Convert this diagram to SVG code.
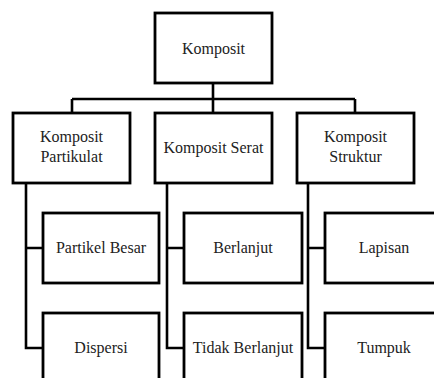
<svg xmlns="http://www.w3.org/2000/svg" width="434" height="378" viewBox="0 0 434 378">
<style>
.box{fill:#fff;stroke:#000;stroke-width:2.8}
.ln{fill:none;stroke:#000;stroke-width:2.6;stroke-linejoin:miter}
text{font-family:'Liberation Serif','Times New Roman',serif;font-size:16px;fill:#222;text-anchor:middle}
</style>
<rect width="434" height="378" fill="#fff"/>
<g id="connectors">
<path class="ln" d="M213,83 V99 M72,99 H355 M72,99 V113 M213,99 V113 M355,99 V113"/>
<path class="ln" d="M26,183 V348 H43 M26,248 H43"/>
<path class="ln" d="M167,183 V348 H184 M167,248 H184"/>
<path class="ln" d="M308,183 V348 H325 M308,248 H325"/>
</g>
<g id="komposit"><rect class="box" x="155" y="13" width="117" height="70"/><text x="213.5" y="53.5">Komposit</text></g>
<g id="partikulat"><rect class="box" x="13" y="113" width="117" height="70"/><text x="71.5" y="142">Komposit</text><text x="71.5" y="162">Partikulat</text></g>
<g id="serat"><rect class="box" x="155" y="113" width="117" height="70"/><text x="213.5" y="153">Komposit Serat</text></g>
<g id="struktur"><rect class="box" x="297" y="113" width="117" height="70"/><text x="355.5" y="142">Komposit</text><text x="355.5" y="162">Struktur</text></g>
<g id="partikel-besar"><rect class="box" x="43" y="213" width="116" height="70"/><text x="101" y="253">Partikel Besar</text></g>
<g id="dispersi"><rect class="box" x="43" y="313" width="116" height="70"/><text x="101" y="353">Dispersi</text></g>
<g id="berlanjut"><rect class="box" x="184" y="213" width="118" height="70"/><text x="243" y="253">Berlanjut</text></g>
<g id="tidak-berlanjut"><rect class="box" x="184" y="313" width="118" height="70"/><text x="243" y="353">Tidak Berlanjut</text></g>
<g id="lapisan"><rect class="box" x="325" y="213" width="118" height="70"/><text x="384" y="253">Lapisan</text></g>
<g id="tumpuk"><rect class="box" x="325" y="313" width="118" height="70"/><text x="384" y="353">Tumpuk</text></g>
</svg>
